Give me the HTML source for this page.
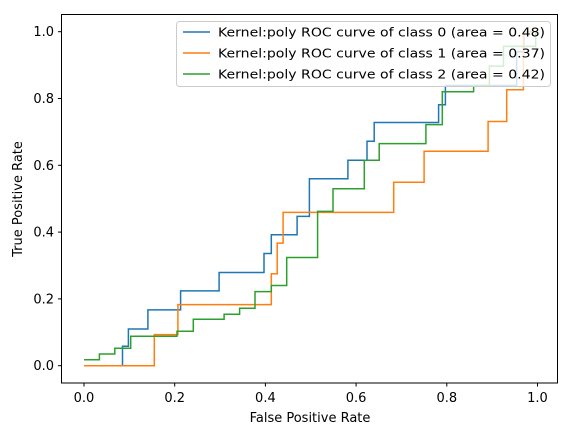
<!DOCTYPE html>
<html><head><meta charset="utf-8"><style>
html,body{margin:0;padding:0;background:#fff;}
svg{display:block;font-family:"DejaVu Sans","Liberation Sans",sans-serif;}
</style></head><body>
<svg id="chart" width="570" height="436" viewBox="0 0 570 436" xmlns="http://www.w3.org/2000/svg">
<rect x="0" y="0" width="570" height="436" fill="#fff"/>
<g id="plot"></g>
<rect x="61.5" y="14.5" width="496" height="368.5" fill="none" stroke="#000" stroke-width="1"/>
<g id="ticks"></g>
<text x="310" y="422" font-size="13" text-anchor="middle">False Positive Rate</text>
<text x="0" y="0" font-size="13" text-anchor="middle" transform="translate(22,199) rotate(-90)">True Positive Rate</text>
<g id="legend"></g>
</svg>
<script>
const xTicks = [0, 0.2, 0.4, 0.6, 0.8, 1.0];
const yTicks = [0, 0.2, 0.4, 0.6, 0.8, 1.0];
const tickLabels = ["0.0","0.2","0.4","0.6","0.8","1.0"];
const seriesNames = ["Kernel:poly ROC curve of class 0 (area = 0.48)","Kernel:poly ROC curve of class 1 (area = 0.37)","Kernel:poly ROC curve of class 2 (area = 0.42)"];
const colors = ["#1f77b4","#ff7f0e","#2ca02c"];
const fpr0 = [0,0.085,0.085,0.098,0.098,0.141,0.141,0.213,0.213,0.298,0.298,0.397,0.397,0.413,0.413,0.470,0.470,0.497,0.497,0.582,0.582,0.624,0.624,0.640,0.640,0.782,0.782,0.797,0.797,0.954,0.954,0.970,0.970,1.0];
const tpr0 = [0,0,0.058,0.058,0.11,0.11,0.167,0.167,0.224,0.224,0.279,0.279,0.336,0.336,0.392,0.392,0.447,0.447,0.56,0.56,0.615,0.615,0.672,0.672,0.728,0.728,0.781,0.781,0.839,0.839,0.94,0.94,1.0,1.0];
const fpr1 = [0,0.155,0.155,0.207,0.207,0.413,0.413,0.426,0.426,0.439,0.439,0.683,0.683,0.75,0.75,0.891,0.891,0.932,0.932,0.969,0.969,1.0];
const tpr1 = [0,0,0.093,0.093,0.183,0.183,0.275,0.275,0.367,0.367,0.459,0.459,0.549,0.549,0.642,0.642,0.731,0.731,0.826,0.826,1.0,1.0];
const fpr2 = [0,0.034,0.034,0.068,0.068,0.103,0.103,0.205,0.205,0.241,0.241,0.309,0.309,0.343,0.343,0.377,0.377,0.413,0.413,0.447,0.447,0.515,0.515,0.549,0.549,0.618,0.618,0.651,0.651,0.754,0.754,0.79,0.79,0.859,0.859,0.894,0.894,0.925,0.925,0.996,0.996,1.0];
const tpr2 = [0.018,0.018,0.035,0.035,0.052,0.052,0.088,0.088,0.103,0.103,0.139,0.139,0.154,0.154,0.172,0.172,0.222,0.222,0.24,0.24,0.324,0.324,0.462,0.462,0.53,0.53,0.615,0.615,0.665,0.665,0.722,0.722,0.82,0.82,0.839,0.839,0.897,0.897,0.956,0.956,1.0,1.0];

const NS="http://www.w3.org/2000/svg";
const sx = v => 84 + 453.5*v;
const sy = v => 365.7 - 334*v;
const plot=document.getElementById('plot');
const series=[[fpr0,tpr0],[fpr1,tpr1],[fpr2,tpr2]];
series.forEach((s,i)=>{
  const p=document.createElementNS(NS,'polyline');
  p.setAttribute('points', s[0].map((x,j)=>sx(x).toFixed(1)+','+sy(s[1][j]).toFixed(1)).join(' '));
  p.setAttribute('fill','none');p.setAttribute('stroke',colors[i]);p.setAttribute('stroke-width','1.5');
  
  
  plot.appendChild(p);
});
const ticks=document.getElementById('ticks');
xTicks.forEach((v,i)=>{
  const l=document.createElementNS(NS,'line');
  l.setAttribute('x1',sx(v));l.setAttribute('x2',sx(v));l.setAttribute('y1',383);l.setAttribute('y2',386.5);l.setAttribute('stroke','#000');
  
  
  ticks.appendChild(l);
  const t=document.createElementNS(NS,'text');
  t.setAttribute('x',sx(v));t.setAttribute('y',402);t.setAttribute('font-size','13');t.setAttribute('text-anchor','middle');
  t.textContent=tickLabels[i];
  
  
  ticks.appendChild(t);
});
yTicks.forEach((v,i)=>{
  const l=document.createElementNS(NS,'line');
  l.setAttribute('x1',58);l.setAttribute('x2',61.5);l.setAttribute('y1',sy(v));l.setAttribute('y2',sy(v));l.setAttribute('stroke','#000');
  
  
  ticks.appendChild(l);
  const t=document.createElementNS(NS,'text');
  t.setAttribute('x',54);t.setAttribute('y',sy(v)+4.5);t.setAttribute('font-size','13');t.setAttribute('text-anchor','end');
  t.textContent=tickLabels[i];
  
  
  ticks.appendChild(t);
});
const lg=document.getElementById('legend');
const box=document.createElementNS(NS,'rect');
box.setAttribute('x',176.5);box.setAttribute('y',21.5);box.setAttribute('width',374);box.setAttribute('height',65);box.setAttribute('rx',3);
box.setAttribute('fill','rgba(255,255,255,0.8)');box.setAttribute('stroke','#ccc');


lg.appendChild(box);
seriesNames.forEach((n,i)=>{
  const y=32+21*i;
  const l=document.createElementNS(NS,'line');
  l.setAttribute('x1',183);l.setAttribute('x2',210);l.setAttribute('y1',y);l.setAttribute('y2',y);
  l.setAttribute('stroke',colors[i]);l.setAttribute('stroke-width','1.5');
  
  
  lg.appendChild(l);
  const t=document.createElementNS(NS,'text');
  t.setAttribute('x',218);t.setAttribute('y',y+4.5);t.setAttribute('font-size','12.5');
  t.setAttribute('textLength','327');t.setAttribute('lengthAdjust','spacingAndGlyphs');
  t.textContent=n;
  
  
  lg.appendChild(t);
});
</script>
</body></html>
